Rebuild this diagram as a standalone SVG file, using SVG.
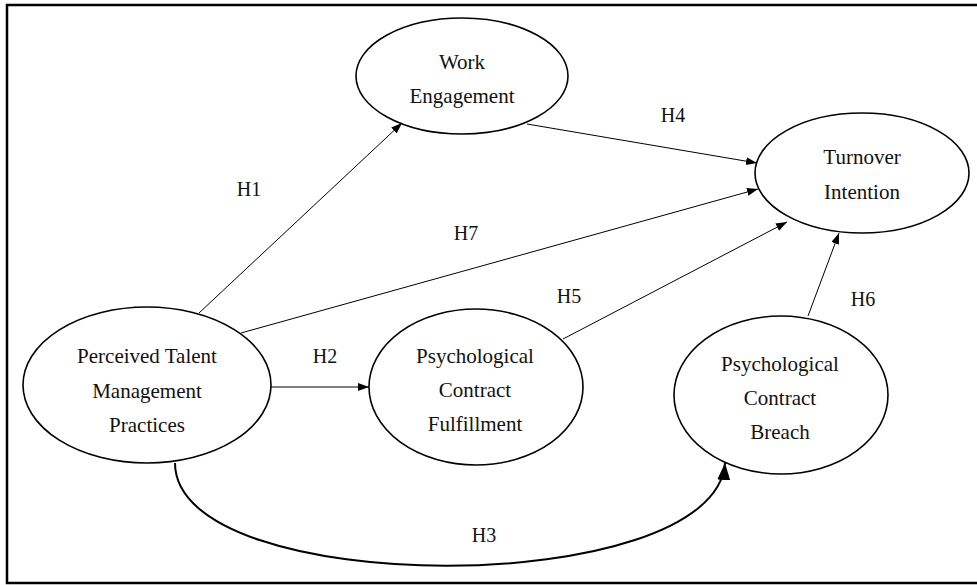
<svg xmlns="http://www.w3.org/2000/svg" width="977" height="585" viewBox="0 0 977 585">
<defs>
<style>
.node ellipse{fill:#fff;stroke:#000;stroke-width:1.6}
.lbl{font-family:"Liberation Serif","Times New Roman",serif;font-size:21px;fill:#111;text-anchor:middle}
.h{font-family:"Liberation Serif","Times New Roman",serif;font-size:20px;fill:#111;text-anchor:middle}
.edge{fill:none;stroke:#000;stroke-width:1;marker-end:url(#arr)}
</style>
<marker id="arr" markerUnits="userSpaceOnUse" markerWidth="12" markerHeight="10" refX="11" refY="4" orient="auto">
<path d="M0,0 L11,4 L0,8 Z" fill="#000"/>
</marker>
<marker id="arrBig" markerUnits="userSpaceOnUse" markerWidth="18" markerHeight="14" refX="17" refY="6.5" orient="auto">
<path d="M0,0 L17,6.5 L0,13 Z" fill="#000"/>
</marker>
</defs>
<rect x="7" y="5" width="980" height="578" fill="#fff" stroke="#000" stroke-width="2.5"/>
<g id="connectors">
<line class="edge" x1="199" y1="313" x2="402" y2="123"/>
<line class="edge" x1="241" y1="333" x2="758" y2="189"/>
<line class="edge" x1="527" y1="124" x2="757" y2="163"/>
<line class="edge" x1="563" y1="339" x2="787" y2="222"/>
<line class="edge" x1="808" y1="316" x2="839" y2="233"/>
<line class="edge" x1="271" y1="387" x2="369" y2="387"/>
<path d="M175,463 C175,600 715,600 725,463" fill="none" stroke="#000" stroke-width="2" marker-end="url(#arrBig)"/>
</g>
<g id="labels">
<text class="h" x="249" y="196">H1</text>
<text class="h" x="325" y="363">H2</text>
<text class="h" x="484" y="542">H3</text>
<text class="h" x="673" y="122">H4</text>
<text class="h" x="569" y="303">H5</text>
<text class="h" x="863" y="306">H6</text>
<text class="h" x="466" y="240">H7</text>
</g>
<g id="work" class="node">
<ellipse cx="462" cy="76" rx="106" ry="58"/>
<text class="lbl" x="462" y="69">Work</text>
<text class="lbl" x="462" y="103">Engagement</text>
</g>
<g id="turnover" class="node">
<ellipse cx="862" cy="173" rx="107" ry="60"/>
<text class="lbl" x="862" y="164">Turnover</text>
<text class="lbl" x="862" y="199">Intention</text>
</g>
<g id="ptmp" class="node">
<ellipse cx="147" cy="385" rx="124" ry="78"/>
<text class="lbl" x="147" y="363">Perceived Talent</text>
<text class="lbl" x="147" y="398">Management</text>
<text class="lbl" x="147" y="432">Practices</text>
</g>
<g id="pcf" class="node">
<ellipse cx="476" cy="387" rx="107" ry="78"/>
<text class="lbl" x="475" y="363">Psychological</text>
<text class="lbl" x="475" y="397">Contract</text>
<text class="lbl" x="475" y="431">Fulfillment</text>
</g>
<g id="pcb" class="node">
<ellipse cx="781" cy="395" rx="107" ry="79"/>
<text class="lbl" x="780" y="371">Psychological</text>
<text class="lbl" x="780" y="405">Contract</text>
<text class="lbl" x="780" y="439">Breach</text>
</g>
</svg>
